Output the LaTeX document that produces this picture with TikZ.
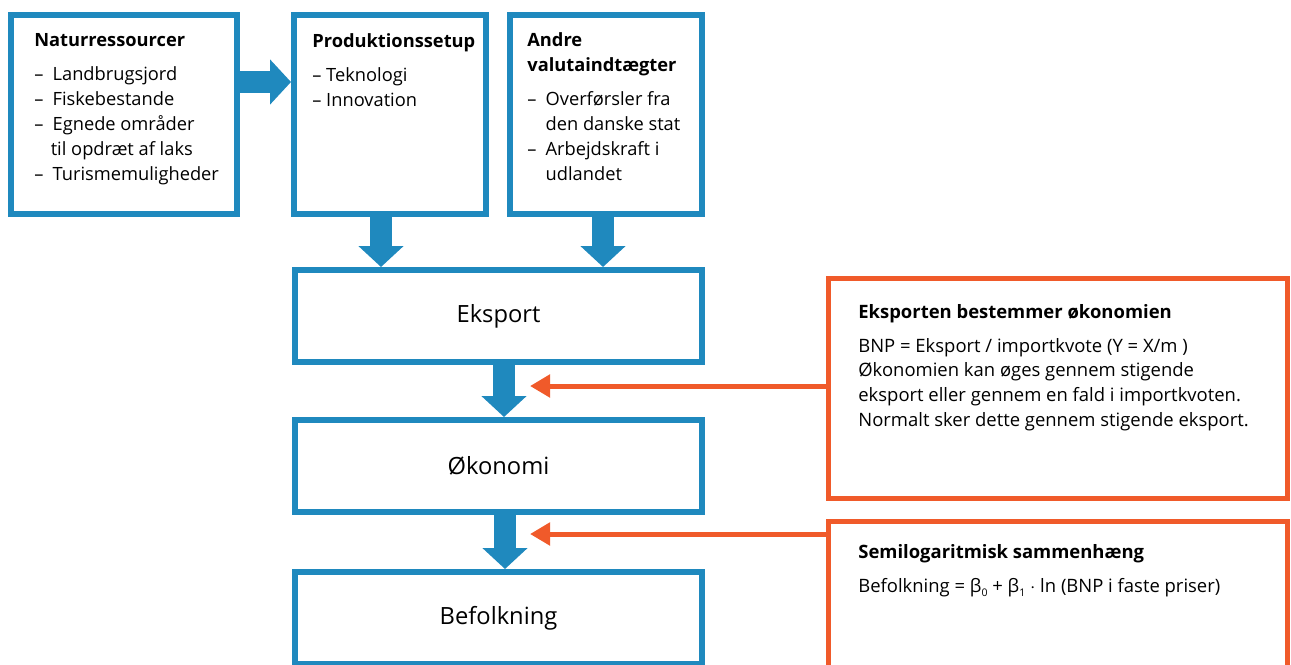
\documentclass[tikz,border=0pt]{standalone}
\usepackage{fontspec}
\setmainfont{Open Sans}
\usetikzlibrary{arrows.meta,positioning}
\definecolor{boxblue}{RGB}{31,137,190}
\definecolor{noteorange}{RGB}{240,90,42}
\newcommand{\dashit}{\makebox[1em][l]{--}}
\newcommand{\lowidx}[1]{\raisebox{-2.5pt}{\fontsize{6}{6}\selectfont #1}}

\begin{document}
\begin{tikzpicture}[x=0.02cm,y=-0.02cm,
  topbox/.style={draw=boxblue,line width=0.12cm,minimum height=3.98cm,inner sep=0pt},
  flowbox/.style={draw=boxblue,line width=0.12cm,minimum width=8.14cm,minimum height=1.84cm,font=\fontsize{13.5}{16}\selectfont},
  notebox/.style={draw=noteorange,line width=0.1cm,minimum width=9.18cm,minimum height=4.4cm},
  listtext/.style={anchor=base west,align=left,inner sep=0pt,font=\fontsize{10.4}{14.2}\selectfont},
  notetext/.style={anchor=base west,align=left,inner sep=0pt,font=\fontsize{10.5}{14}\selectfont},
  flow/.style={draw=boxblue,line width=0.44cm,-{Triangle[width=0.88cm,length=0.42cm]}},
  hint/.style={draw=noteorange,line width=0.1cm,-{Triangle[width=0.44cm,length=0.4cm]}}]
\useasboundingbox (0,0) rectangle (1291,664);
\clip (0,0) rectangle (1291,664);
% top row (text nodes sit on their last baseline)
\node[topbox,minimum width=4.52cm] (natur) at (124,114.5) {};
\node[topbox,minimum width=3.84cm] (prod) at (390,114.5) {};
\node[topbox,minimum width=3.84cm] (andre) at (606,114.5) {};
\node[listtext] (naturtxt) at (34,180) {\textbf{Naturressourcer}\\[5pt]
  \dashit Landbrugsjord\\ \dashit Fiskebestande\\ \dashit Egnede områder\\
  \hspace{0.9em}til opdræt af laks\\ \dashit Turismemuligheder};
\node[listtext] (prodtxt) at (312,106) {\textbf{Produktionssetup}\\[5pt]
  -- Teknologi\\ -- Innovation};
\node[listtext] (andretxt) at (527,180) {\textbf{Andre}\\ \textbf{valutaindtægter}\\[5pt]
  \dashit Overførsler fra\\ \hspace{1em}den danske stat\\ \dashit Arbejdskraft i\\ \hspace{1em}udlandet};
% main chain
\node[flowbox] (eksport) at (498.5,316) {Eksport};
\node[flowbox] (okonomi) at (498.5,466) {Økonomi};
\node[flowbox] (befolk) at (498.5,618) {Befolkning};
\draw[flow] (natur.east |- 0,82) -- (prod.west |- 0,82);
\draw[flow] (prod.south -| 381,0) -- (eksport.north -| 381,0);
\draw[flow] (andre.south -| 603,0) -- (eksport.north -| 603,0);
\draw[flow] (eksport.south -| 504,0) -- (okonomi.north -| 504,0);
\draw[flow] (okonomi.south -| 505,0) -- (befolk.north -| 505,0);
% notes
\node[notebox] (note1) at (1058,388.5) {};
\node[notebox] (note2) at (1058,631.5) {};
\node[notetext] (note1txt) at (858,426) {\textbf{Eksporten bestemmer økonomien}\\[5pt]
  BNP = Eksport / importkvote (Y = X/m )\\
  Økonomien kan øges gennem stigende\\
  eksport eller gennem en fald i importkvoten.\\
  Normalt sker dette gennem stigende eksport.};
\node[notetext] (note2txt) at (858,592) {\textbf{Semilogaritmisk sammenhæng}\\[5pt]
  Befolkning = β\lowidx{0} + β\lowidx{1} $\cdot$ ln (BNP i faste priser)};
\coordinate (tip1) at (530,386);
\coordinate (tip2) at (530,534);
\draw[hint] (note1.west |- tip1) -- (tip1);
\draw[hint] (note2.west |- tip2) -- (tip2);
\end{tikzpicture}
\end{document}
